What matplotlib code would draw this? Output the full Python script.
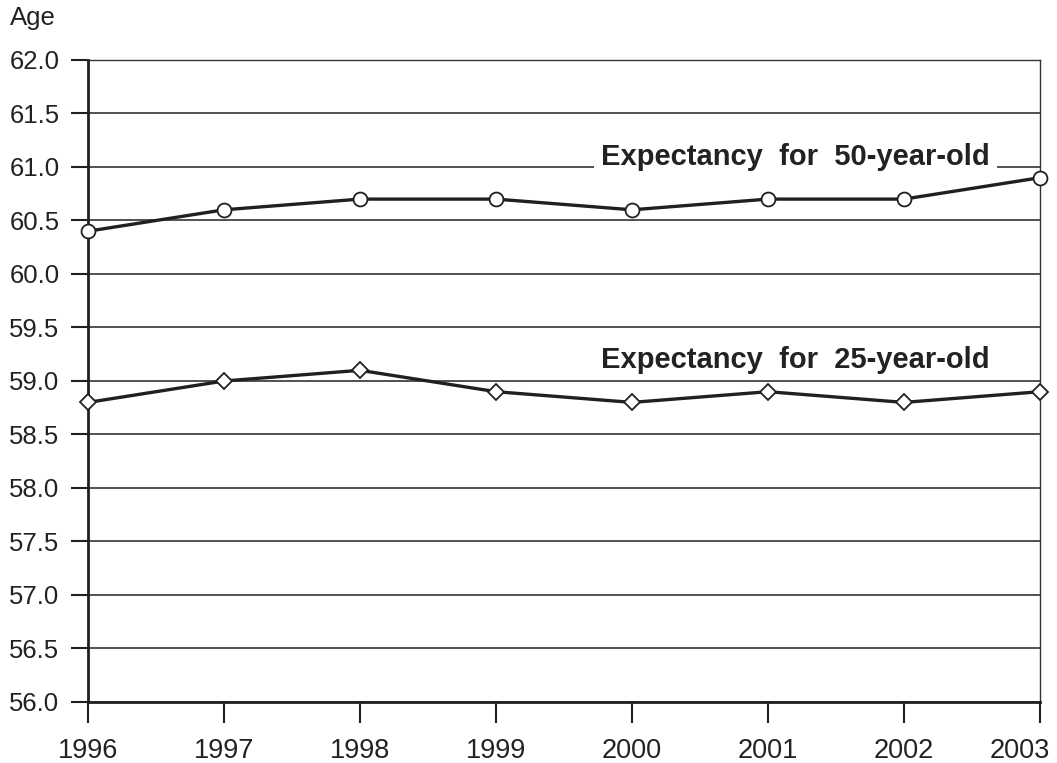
import matplotlib
matplotlib.use("Agg")
import matplotlib.pyplot as plt
from matplotlib.transforms import ScaledTranslation

plt.rcParams['font.family'] = ['Liberation Sans', 'DejaVu Sans']

years = [1996, 1997, 1998, 1999, 2000, 2001, 2002, 2003]
age50 = [60.4, 60.6, 60.7, 60.7, 60.6, 60.7, 60.7, 60.9]
age25 = [58.8, 59.0, 59.1, 58.9, 58.8, 58.9, 58.8, 58.9]
yticks = [56.0, 56.5, 57.0, 57.5, 58.0, 58.5, 59.0, 59.5, 60.0, 60.5, 61.0, 61.5, 62.0]

ink = "#231f20"
txt = "#222222"

fig = plt.figure(figsize=(10.57, 7.63), dpi=100)
ax = fig.add_axes([88/1057, 61/763, (1040-88)/1057, (702-60)/763])

ax.plot(years, age50, color=ink, lw=2.4, marker="o", ms=10, mfc="white",
        mec=ink, mew=1.3, clip_on=False, zorder=5)
ax.plot(years, age25, color=ink, lw=2.4, marker="D", ms=8.5, mfc="white",
        mec=ink, mew=1.3, clip_on=False, zorder=5)

ax.set_xlim(1996, 2003)
ax.set_ylim(56, 62)
ax.set_xticks(years)
ax.set_yticks(yticks)
ax.set_yticklabels(["%.1f" % v for v in yticks])
ax.grid(axis="y", color="#333333", lw=1.2)
ax.set_axisbelow(True)

for s in ["left", "bottom"]:
    ax.spines[s].set_linewidth(2.0)
    ax.spines[s].set_color(ink)
for s in ["right", "top"]:
    ax.spines[s].set_linewidth(1.0)
    ax.spines[s].set_color("#333333")

ax.tick_params(axis="y", length=12, width=1.5, color=ink, labelsize=18.5,
               labelcolor=txt, pad=8.5)
ax.tick_params(axis="x", length=15, width=1.5, color=ink, labelsize=19.5,
               labelcolor=txt, pad=11)

# last year label sits inside the figure edge
last = ax.get_xticklabels()[-1]
last.set_transform(last.get_transform() +
                   ScaledTranslation(-20/100, 0, fig.dpi_scale_trans))

ax.text(2001.2, 61.09, "Expectancy  for  50-year-old", fontsize=21,
        fontweight="bold", color=txt, ha="center", va="center",
        bbox=dict(facecolor="white", edgecolor="none", pad=5), zorder=3)
ax.text(2001.2, 59.2, "Expectancy  for  25-year-old", fontsize=21,
        fontweight="bold", color=txt, ha="center", va="center", zorder=3)

fig.text(10/1057, 1 - 18/763, "Age", fontsize=18.5, color=txt,
         ha="left", va="center")

fig.savefig("out.png", dpi=100)
